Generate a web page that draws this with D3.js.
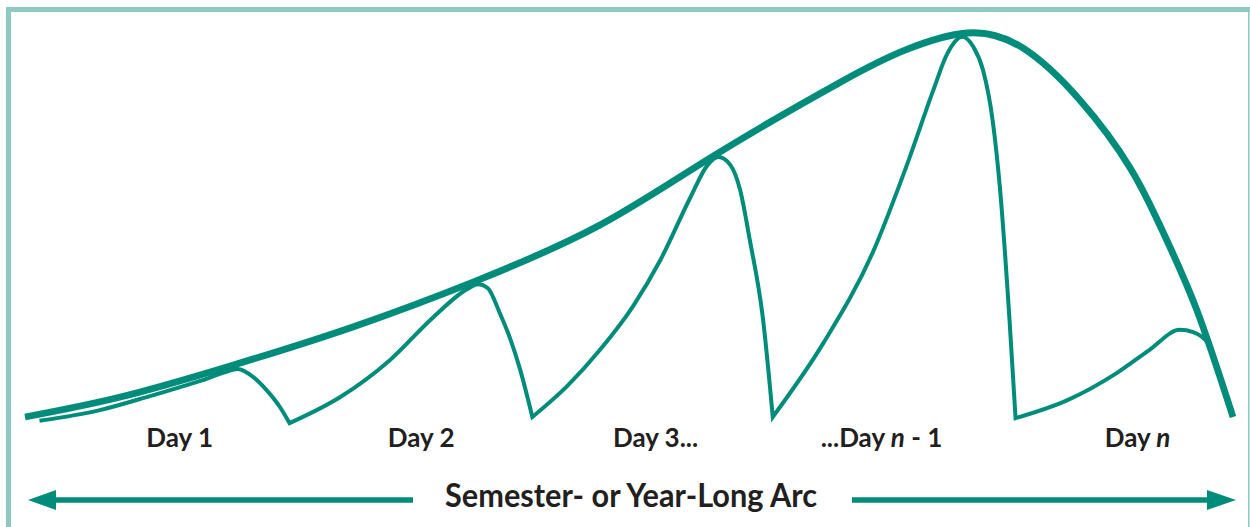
<!DOCTYPE html>
<html>
<head>
<meta charset="utf-8">
<script src="https://cdn.jsdelivr.net/npm/d3@7"></script>
<style>
  body { margin: 0; background: #fff; }
  text { font-family: Lato, "Open Sans", sans-serif; font-weight: bold; fill: #231f20; }
</style>
</head>
<body>
<div id="chart"></div>
<script>
// time runs 0..100 across the semester, level 0..100
var semesterArc = [
  [0, 0], [7.9, 5.2], [17.0, 13.3], [26.9, 23.2], [37.3, 35.4], [47.6, 50.0],
  [57.1, 68.2], [67.5, 87.2], [72.9, 95.6], [78.0, 100], [82.6, 96.1], [87.3, 82.6],
  [91.5, 64.8], [94.2, 48.2], [97.0, 27.9], [100, 0]
]

var day1 = [[1.2, -1.0], [6.2, 1.8], [10.4, 5.5], [14.5, 9.4], [16.6, 11.7], [17.6, 12.5],
  [18.9, 10.4], [20.0, 7.0], [21.1, 2.6], [21.9, -1.6]]
var day2 = [[21.9, -1.6], [26.1, 5.2], [30.2, 14.8], [33.8, 26.0], [36.6, 33.3], [37.5, 34.6],
  [38.3, 33.6], [39.3, 27.1], [40.2, 20.1], [41.0, 12.2], [42.0, 0]]
var day3 = [[42.0, 0], [44.9, 8.1], [47.6, 17.5], [50.3, 28.7], [52.6, 40.9], [55.1, 57.3],
  [56.5, 65.6], [57.4, 67.7], [58.4, 65.6], [59.2, 59.1], [60.0, 46.1], [61.1, 25.3], [61.9, 0]]
var dayNminus1 = [[61.9, 0], [66.1, 19.3], [70.2, 43.0], [73.0, 65.6], [75.2, 85.2], [76.3, 94.3],
  [77.6, 99.0], [78.5, 96.4], [79.3, 90.4], [80.1, 77.3], [80.7, 59.9], [81.5, 25.3], [82.0, -0.3]]
var dayN = [[82.0, -0.3], [86.3, 4.4], [90.4, 11.5], [93.1, 17.5], [95.6, 22.7], [96.7, 22.1],
  [97.9, 19.3], [98.5, 14.8]]

var days = [day1, day2, day3, dayNminus1, dayN]
var dayLabels = ["Day 1", "Day 2", "Day 3...", "...Day n - 1", "Day n"]
var dayLabelAt = [12.8, 32.8, 52.2, 70.9, 92.1]
var arcTitle = "Semester- or Year-Long Arc"

var teal = "#008c7a"
var frame = "#8ecac1"

var svg = d3.select("#chart")
  .append("svg")
  .attr("width", 1250)
  .attr("height", 527)

var x = d3.scaleLinear().domain([0, 100]).range([25, 1233])
var y = d3.scaleLinear().domain([0, 100]).range([417, 33])

// frame: thick top and left, thin right
svg.append("rect").attr("x", 6).attr("y", 7).attr("width", 1244).attr("height", 5).attr("fill", frame)
svg.append("rect").attr("x", 6).attr("y", 7).attr("width", 5).attr("height", 520).attr("fill", frame)
svg.append("rect").attr("x", 1248).attr("y", 7).attr("width", 1.5).attr("height", 520).attr("fill", frame)

var dayLine = d3.line()
  .x(d => x(d[0]))
  .y(d => y(d[1]))
  .curve(d3.curveMonotoneX)

var arcLine = d3.line()
  .x(d => x(d[0]))
  .y(d => y(d[1]))
  .curve(d3.curveNatural)

// daily arcs joined into one path so the troughs stay sharp
var dayPath = days.map((d, i) => i === 0 ? dayLine(d) : dayLine(d).replace(/^M/, "L")).join("")

svg.append("path")
  .attr("d", dayPath)
  .attr("fill", "none")
  .attr("stroke", teal)
  .attr("stroke-width", 4)
  .attr("stroke-linejoin", "miter")
  .attr("stroke-miterlimit", 10)

svg.append("path")
  .attr("d", arcLine(semesterArc))
  .attr("fill", "none")
  .attr("stroke", teal)
  .attr("stroke-width", 6.8)

// day labels, italic n
dayLabels.forEach((lab, i) => {
  var t = svg.append("text")
    .attr("x", x(dayLabelAt[i]))
    .attr("y", 447)
    .attr("text-anchor", "middle")
    .style("font-size", "26px")
  lab.split(/(\bn\b)/).forEach(part => {
    if (part === "") return
    var ts = t.append("tspan").text(part)
    if (part === "n") ts.style("font-style", "italic")
  })
})

// long arc arrow
var arrowY = 500
svg.append("line").attr("x1", 50).attr("x2", 413).attr("y1", arrowY).attr("y2", arrowY)
  .attr("stroke", teal).attr("stroke-width", 5.5)
svg.append("line").attr("x1", 852).attr("x2", 1212).attr("y1", arrowY).attr("y2", arrowY)
  .attr("stroke", teal).attr("stroke-width", 5.5)
svg.append("path").attr("d", d3.line()([[28, arrowY], [56, arrowY - 10], [56, arrowY + 10]]) + "Z")
  .attr("fill", teal)
svg.append("path").attr("d", d3.line()([[1236, arrowY], [1207, arrowY - 10], [1207, arrowY + 10]]) + "Z")
  .attr("fill", teal)

svg.append("text")
  .attr("x", 631)
  .attr("y", 507)
  .attr("text-anchor", "middle")
  .attr("textLength", 372)
  .attr("lengthAdjust", "spacingAndGlyphs")
  .style("font-size", "32px")
  .text(arcTitle)
</script>
</body>
</html>
